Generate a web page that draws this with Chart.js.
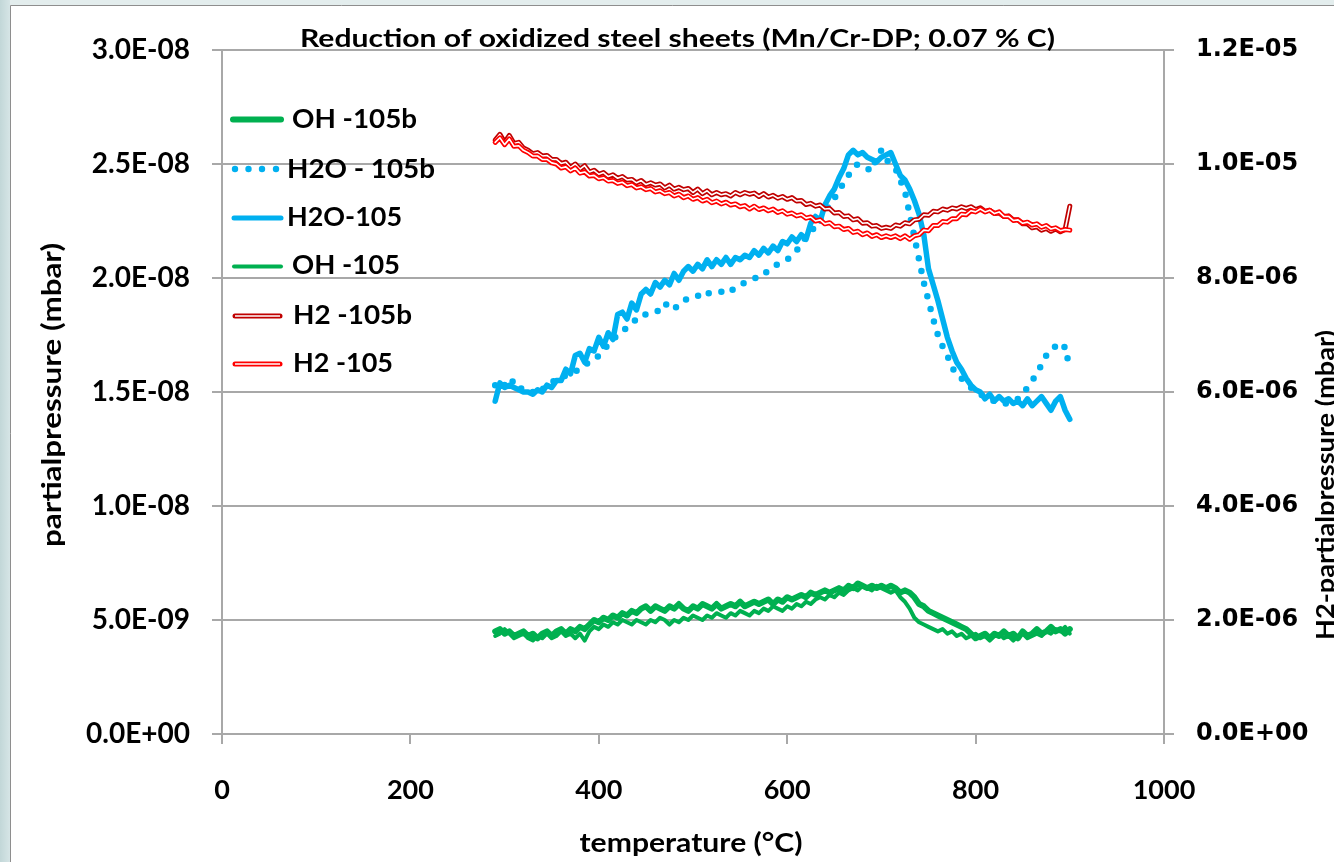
<!DOCTYPE html>
<html><head><meta charset="utf-8">
<script src="https://cdn.jsdelivr.net/npm/chart.js@4.4.1/dist/chart.umd.min.js"></script>
<style>html,body{margin:0;padding:0;background:#fff;overflow:hidden}canvas{display:block}</style>
</head><body>
<canvas id="c" width="1334" height="862" style="width:1334px;height:862px"></canvas>
<script>
// ---- data (temperature in °C; left series in 1E-08 mbar; H2 series in 1E-06 mbar) ----
const temperature = [290,295,300,305,310,315,320,325,330,335,340,345,350,355,360,365,370,375,380,385,
390,395,400,405,410,415,420,425,430,435,440,445,450,455,460,465,470,475,480,485,
490,495,500,505,510,515,520,525,530,535,540,545,550,555,560,565,570,575,580,585,
590,595,600,605,610,615,620,625,630,635,640,645,650,655,660,665,670,675,680,685,
690,695,700,705,710,715,720,725,730,735,740,745,750,755,760,765,770,775,780,785,
790,795,800,805,810,815,820,825,830,835,840,845,850,855,860,865,870,875,880,885,
890,895,900];

const oh105b = [0.45,0.46,0.44,0.45,0.43,0.44,0.45,0.43,0.44,0.42,
0.44,0.45,0.43,0.45,0.46,0.44,0.46,0.45,0.47,0.46,
0.48,0.50,0.49,0.51,0.50,0.52,0.51,0.53,0.52,0.54,
0.53,0.55,0.56,0.54,0.56,0.55,0.54,0.56,0.55,0.57,
0.55,0.54,0.56,0.55,0.57,0.56,0.55,0.57,0.55,0.56,
0.57,0.56,0.58,0.56,0.57,0.58,0.57,0.58,0.59,0.57,
0.59,0.58,0.60,0.59,0.60,0.61,0.60,0.62,0.61,0.62,
0.63,0.62,0.63,0.64,0.63,0.65,0.64,0.66,0.65,0.64,
0.65,0.64,0.65,0.64,0.65,0.64,0.62,0.63,0.62,0.60,
0.57,0.56,0.54,0.53,0.52,0.51,0.50,0.49,0.48,0.47,
0.46,0.44,0.42,0.43,0.44,0.42,0.44,0.43,0.45,0.43,
0.44,0.42,0.45,0.43,0.44,0.46,0.44,0.45,0.47,0.45,
0.46,0.44,0.46];

const h2o105b = [1.53,1.55,1.53,1.56,1.54,1.51,1.52,1.51,1.50,1.52,
1.51,1.53,1.54,1.56,1.57,1.57,1.58,1.59,1.60,1.62,
1.63,1.64,1.66,1.68,1.71,1.73,1.75,1.77,1.78,1.80,
1.82,1.84,1.84,1.85,1.85,1.86,1.89,1.87,1.86,1.89,
1.90,1.91,1.92,1.92,1.94,1.93,1.94,1.94,1.94,1.95,
1.94,1.96,1.97,1.98,1.99,2.00,2.00,2.02,2.03,2.05,
2.06,2.07,2.08,2.10,2.12,2.15,2.18,2.20,2.23,2.26,
2.29,2.32,2.35,2.38,2.42,2.45,2.48,2.50,2.49,2.48,
2.47,2.53,2.56,2.52,2.50,2.48,2.43,2.38,2.28,2.18,
2.08,1.98,1.90,1.82,1.75,1.70,1.66,1.61,1.57,1.56,
1.54,1.52,1.50,1.49,1.48,1.47,1.46,1.46,1.45,1.45,
1.46,1.47,1.49,1.52,1.55,1.58,1.62,1.66,1.69,1.70,
1.68,1.70,1.60];

const h2o105 = [1.46,1.54,1.52,1.53,1.52,1.51,1.50,1.50,1.49,1.51,
1.50,1.53,1.52,1.55,1.55,1.60,1.58,1.66,1.67,1.63,
1.69,1.68,1.74,1.70,1.76,1.73,1.84,1.85,1.82,1.89,
1.86,1.93,1.95,1.93,1.98,1.96,1.99,1.97,2.02,1.99,
2.03,2.05,2.03,2.06,2.04,2.08,2.05,2.08,2.06,2.09,
2.06,2.09,2.08,2.10,2.09,2.12,2.10,2.13,2.11,2.14,
2.12,2.16,2.15,2.18,2.16,2.19,2.17,2.24,2.27,2.25,
2.32,2.36,2.39,2.44,2.48,2.54,2.56,2.54,2.55,2.53,
2.52,2.51,2.53,2.54,2.55,2.50,2.45,2.43,2.39,2.34,
2.28,2.19,2.04,1.97,1.90,1.82,1.74,1.68,1.63,1.60,
1.56,1.53,1.51,1.50,1.47,1.49,1.46,1.48,1.46,1.47,
1.45,1.46,1.44,1.47,1.44,1.46,1.48,1.45,1.42,1.46,
1.48,1.42,1.38];

const oh105 = [0.43,0.44,0.46,0.44,0.42,0.43,0.44,0.42,0.41,0.43,
0.42,0.44,0.42,0.43,0.45,0.43,0.44,0.42,0.44,0.41,
0.45,0.47,0.46,0.48,0.47,0.49,0.48,0.50,0.49,0.48,
0.50,0.49,0.48,0.50,0.49,0.51,0.50,0.48,0.50,0.49,
0.51,0.50,0.52,0.51,0.50,0.52,0.51,0.53,0.52,0.51,
0.53,0.52,0.54,0.53,0.52,0.54,0.53,0.55,0.54,0.56,
0.55,0.54,0.56,0.55,0.57,0.56,0.58,0.57,0.59,0.60,
0.59,0.61,0.60,0.62,0.61,0.63,0.64,0.63,0.65,0.64,
0.63,0.65,0.64,0.63,0.62,0.63,0.60,0.58,0.55,0.51,
0.49,0.48,0.47,0.46,0.45,0.46,0.44,0.45,0.43,0.44,
0.42,0.43,0.44,0.42,0.43,0.41,0.43,0.44,0.42,0.43,
0.41,0.43,0.44,0.42,0.43,0.44,0.43,0.45,0.44,0.46,
0.45,0.47,0.44];

const h2_105b = [10.42,10.52,10.38,10.50,10.36,10.38,10.28,10.24,10.18,10.20,
10.14,10.15,10.08,10.08,10.01,10.03,9.94,10.00,9.91,9.97,
9.86,9.89,9.82,9.85,9.78,9.81,9.75,9.78,9.72,9.73,
9.67,9.71,9.64,9.67,9.63,9.65,9.58,9.63,9.56,9.59,
9.55,9.57,9.50,9.56,9.48,9.53,9.46,9.50,9.46,9.48,
9.44,9.50,9.46,9.50,9.47,9.49,9.43,9.48,9.42,9.45,
9.40,9.43,9.38,9.41,9.35,9.36,9.29,9.31,9.26,9.28,
9.21,9.22,9.14,9.15,9.08,9.09,9.02,9.04,8.96,8.97,
8.91,8.92,8.87,8.89,8.87,8.93,8.91,8.97,8.95,9.02,
9.03,9.11,9.10,9.17,9.16,9.21,9.19,9.23,9.21,9.25,
9.22,9.25,9.20,9.23,9.17,9.19,9.13,9.14,9.08,9.09,
9.02,9.02,8.95,8.95,8.88,8.90,8.84,8.87,8.82,8.86,
8.81,8.85,9.26];

const h2_105 = [10.38,10.46,10.34,10.44,10.31,10.32,10.24,10.20,10.14,10.14,
10.08,10.08,10.02,10.00,9.93,9.95,9.88,9.93,9.84,9.86,
9.79,9.80,9.74,9.76,9.70,9.71,9.66,9.68,9.62,9.64,
9.58,9.60,9.55,9.57,9.51,9.53,9.48,9.50,9.44,9.47,
9.41,9.44,9.38,9.41,9.35,9.38,9.32,9.35,9.30,9.33,
9.28,9.30,9.25,9.27,9.21,9.26,9.20,9.23,9.18,9.21,
9.15,9.18,9.12,9.14,9.09,9.11,9.05,9.07,9.00,9.02,
8.95,8.97,8.90,8.91,8.85,8.87,8.80,8.82,8.76,8.79,
8.73,8.76,8.71,8.74,8.71,8.74,8.69,8.74,8.68,8.74,
8.76,8.84,8.83,8.92,8.92,8.99,8.98,9.04,9.04,9.12,
9.11,9.18,9.16,9.21,9.16,9.19,9.13,9.16,9.08,9.08,
9.01,9.02,8.96,8.98,8.93,8.95,8.89,8.92,8.86,8.88,
8.83,8.85,8.84];

const xTickLabels = ['0','200','400','600','800','1000'];
const leftTickLabels = ['0.0E+00','5.0E-09','1.0E-08','1.5E-08','2.0E-08','2.5E-08','3.0E-08'];
const rightTickLabels = ['0.0E+00','2.0E-06','4.0E-06','6.0E-06','8.0E-06','1.0E-05','1.2E-05'];
const legendLabels = ['OH -105b','H2O - 105b','H2O-105','OH -105','H2 -105b','H2 -105'];
const titleText = 'Reduction of oxidized steel sheets (Mn/Cr-DP; 0.07 % C)';
const xTitle = 'temperature (°C)';
const yTitle = 'partialpressure (mbar)';
const y2Title = 'H2-partialpressure (mbar)';

// ---- styling ----
const GREEN = '#00B050', BLUE = '#00B0F0', RED = '#FF0000', DARKRED = '#C00000', GRID = '#a8a8a8';
const pts = ys => temperature.map((t, i) => ({x: t, y: ys[i]}));

function fitText(ctx, txt, x, y, font, width, align, angle) {
  ctx.save();
  ctx.font = font; ctx.fillStyle = '#000';
  const w = ctx.measureText(txt).width;
  ctx.translate(x, y);
  if (angle) ctx.rotate(angle);
  ctx.scale(width / w, 1);
  ctx.textAlign = align; ctx.textBaseline = 'middle';
  ctx.fillText(txt, 0, 0);
  ctx.restore();
}

const decor = {
  id: 'decor',
  beforeDraw(chart) {
    const ctx = chart.ctx;
    ctx.save();
    ctx.fillStyle = '#e3eded';
    ctx.fillRect(0, 0, 1334, 862);
    const g = ctx.createLinearGradient(0, 0, 10, 0);
    g.addColorStop(0, '#c2d7d8'); g.addColorStop(1, '#d6e5e6');
    ctx.fillStyle = g; ctx.fillRect(0, 0, 10, 862);
    ctx.fillStyle = '#ffffff';
    ctx.fillRect(10, 5, 1324, 857);
    ctx.strokeStyle = '#8e8e8e'; ctx.lineWidth = 1;
    ctx.beginPath(); ctx.moveTo(10.5, 862); ctx.lineTo(10.5, 5.5); ctx.lineTo(1334, 5.5); ctx.stroke();
    ctx.restore();
  },
  afterDraw(chart) {
    const ctx = chart.ctx;
    fitText(ctx, titleText, 677.5, 39.5, 'bold 24px Lato', 755, 'center');
    fitText(ctx, xTitle, 691, 843, 'bold 27px Lato', 223, 'center');
    fitText(ctx, yTitle, 52, 395, 'bold 27px Lato', 304, 'center', -Math.PI / 2);
    fitText(ctx, y2Title, 1326, 485, 'bold 25px Lato', 310, 'center', -Math.PI / 2);

    // legend
    ctx.save();
    ctx.lineCap = 'round';
    ctx.strokeStyle = GREEN; ctx.lineWidth = 6;
    ctx.beginPath(); ctx.moveTo(233, 119.5); ctx.lineTo(281, 119.5); ctx.stroke();
    ctx.fillStyle = BLUE;
    [235, 248.5, 262, 276].forEach(x => { ctx.beginPath(); ctx.arc(x, 169, 3.2, 0, Math.PI * 2); ctx.fill(); });
    ctx.strokeStyle = BLUE; ctx.lineWidth = 5;
    ctx.beginPath(); ctx.moveTo(234, 218); ctx.lineTo(281, 218); ctx.stroke();
    ctx.strokeStyle = GREEN; ctx.lineWidth = 4;
    ctx.beginPath(); ctx.moveTo(234, 266.5); ctx.lineTo(281, 266.5); ctx.stroke();
    [[DARKRED, 316], [RED, 364]].forEach(([c, y]) => {
      ctx.lineCap = 'round'; ctx.strokeStyle = c; ctx.lineWidth = 5;
      ctx.beginPath(); ctx.moveTo(235, y); ctx.lineTo(280, y); ctx.stroke();
      ctx.lineCap = 'butt'; ctx.strokeStyle = '#fff'; ctx.lineWidth = 1.6;
      ctx.beginPath(); ctx.moveTo(235, y); ctx.lineTo(280, y); ctx.stroke();
    });
    ctx.restore();
    const lf = 'bold 26px Lato';
    fitText(ctx, legendLabels[0], 292, 119.5, lf, 125, 'left');
    fitText(ctx, legendLabels[1], 287, 169.3, lf, 148, 'left');
    fitText(ctx, legendLabels[2], 287, 217.7, lf, 115, 'left');
    fitText(ctx, legendLabels[3], 292, 266, lf, 108, 'left');
    fitText(ctx, legendLabels[4], 293, 315.3, lf, 119, 'left');
    fitText(ctx, legendLabels[5], 293, 364, lf, 100, 'left');
  }
};

const tickFontL = {family: 'Lato', size: 28, weight: 'bold'};
const tickFontX = {family: 'Lato', size: 27, weight: 'bold'};

function build() {
  new Chart(document.getElementById('c'), {
    type: 'line',
    data: {
      datasets: [
        {label: 'H2 -105 inner', data: pts(h2_105), yAxisID: 'y2', borderColor: '#ffffff', borderWidth: 1.6, order: 0},
        {label: legendLabels[5], data: pts(h2_105), yAxisID: 'y2', borderColor: RED, borderWidth: 5, order: 1},
        {label: 'H2 -105b inner', data: pts(h2_105b), yAxisID: 'y2', borderColor: '#ffffff', borderWidth: 1.6, order: 2},
        {label: legendLabels[4], data: pts(h2_105b), yAxisID: 'y2', borderColor: DARKRED, borderWidth: 5, order: 3},
        {label: legendLabels[2], data: pts(h2o105), yAxisID: 'y', borderColor: BLUE, borderWidth: 5.5, order: 4},
        {label: legendLabels[1], data: pts(h2o105b), yAxisID: 'y', borderColor: BLUE, borderWidth: 6.5, borderDash: [0, 13], borderCapStyle: 'round', order: 5},
        {label: legendLabels[3], data: pts(oh105), yAxisID: 'y', borderColor: GREEN, borderWidth: 4, order: 6},
        {label: legendLabels[0], data: pts(oh105b), yAxisID: 'y', borderColor: GREEN, borderWidth: 6, order: 7}
      ]
    },
    options: {
      responsive: false, animation: false, devicePixelRatio: 1,
      layout: {padding: {top: 50, left: 0, right: 0, bottom: 0}},
      plugins: {legend: {display: false}, tooltip: {enabled: false}, title: {display: false}},
      elements: {point: {radius: 0}, line: {tension: 0, borderJoinStyle: 'round', borderCapStyle: 'round', fill: false}},
      scales: {
        x: {
          type: 'linear', position: 'bottom', min: 0, max: 1000,
          afterFit(s) { s.height = 128; },
          ticks: {stepSize: 200, autoSkip: false, maxRotation: 0, padding: 30, color: '#000', font: tickFontX,
                  callback: (v, i) => xTickLabels[i]},
          grid: {drawOnChartArea: false, drawTicks: true, tickLength: 10, color: GRID, lineWidth: 2},
          border: {display: true, color: GRID, width: 2}
        },
        y: {
          type: 'linear', position: 'left', min: 0, max: 3,
          afterFit(s) { s.width = 222; },
          ticks: {stepSize: 0.5, padding: 22, color: '#000', font: tickFontL,
                  callback: (v, i) => leftTickLabels[i]},
          grid: {drawOnChartArea: true, drawTicks: true, tickLength: 10, color: GRID, lineWidth: 2},
          border: {display: true, color: GRID, width: 2}
        },
        y2: {
          type: 'linear', position: 'right', min: 0, max: 12,
          afterFit(s) { s.width = 170; },
          ticks: {stepSize: 2, padding: 22, color: '#000', font: {family: 'DejaVu Sans', size: 24, weight: 'bold'},
                  callback: (v, i) => rightTickLabels[i]},
          grid: {drawOnChartArea: false, drawTicks: true, tickLength: 10, color: GRID, lineWidth: 2},
          border: {display: true, color: GRID, width: 2}
        }
      }
    },
    plugins: [decor]
  });
}
Promise.all([
  document.fonts.load('bold 24px Lato'),
  document.fonts.load('bold 20px "DejaVu Sans"')
]).then(build, build);
</script>
</body></html>
